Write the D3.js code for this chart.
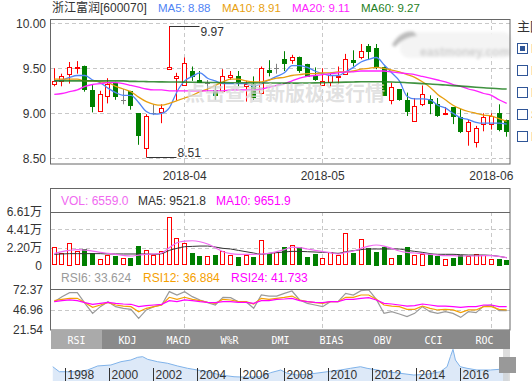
<!DOCTYPE html>
<html>
<head>
<meta charset="utf-8">
<script src="https://cdn.jsdelivr.net/npm/d3@7"></script>
<style>
  body { margin: 0; background: #fff; overflow: hidden; }
  svg { display: block; font-family: "Liberation Sans", Arial, "Noto Sans CJK SC", sans-serif; }
</style>
</head>
<body>
<svg id="chart" width="532" height="387"></svg>
<script>
// trading days, 2018-03-08 .. 2018-06-05
const dates = ["03-08","03-09","03-12","03-13","03-14","03-15","03-16","03-19","03-20","03-21",
  "03-22","03-23","03-26","03-27","03-28","03-29","03-30","04-02","04-03","04-04",
  "04-09","04-10","04-11","04-12","04-13","04-16","04-17","04-18","04-19","04-20",
  "04-23","04-24","04-25","04-26","04-27","05-02","05-03","05-04","05-07","05-08",
  "05-09","05-10","05-11","05-14","05-15","05-16","05-17","05-18","05-21","05-22",
  "05-23","05-24","05-25","05-28","05-29","05-30","05-31","06-01","06-04","06-05"]
const monthStarts = ["04-02", "05-02", "06-01"]
const monthLabels = ["2018-04", "2018-05", "2018-06"]

const open = [9.33,9.36,9.44,9.51,9.53,9.26,9.02,9.20,9.34,9.15, 9.25,9.00,8.62,9.00,9.02,9.50,9.39,9.32,9.47,9.37,
  9.34,9.26,9.24,9.41,9.42,9.31,9.33,9.22,9.48,9.50, 9.60,9.60,9.63,9.55,9.42,9.32,9.35,9.41,9.43,9.59,
  9.62,9.75,9.73,9.52,9.15,9.27,9.15,8.91,9.10,9.16, 9.10,8.99,9.07,8.96,8.80,8.69,8.88,8.88,9.00,8.93]
const high = [9.50,9.44,9.57,9.58,9.53,9.32,9.25,9.39,9.35,9.27, 9.25,9.00,8.99,9.10,9.10,9.97,9.45,9.62,9.52,9.47,
  9.37,9.32,9.49,9.47,9.47,9.36,9.41,9.52,9.59,9.55, 9.69,9.65,9.63,9.55,9.51,9.50,9.45,9.52,9.66,9.70,
  9.77,9.77,9.77,9.52,9.34,9.27,9.23,9.17,9.31,9.20, 9.17,9.07,9.07,9.05,8.93,8.86,9.00,9.00,9.10,8.93]
const low = [9.30,9.30,9.33,9.44,9.24,9.01,9.02,9.11,9.15,9.10, 9.04,8.65,8.51,8.98,8.89,9.50,9.14,9.32,9.36,9.34,
  9.24,9.15,9.23,9.37,9.30,9.13,9.15,9.21,9.41,9.44, 9.47,9.55,9.45,9.41,9.36,9.32,9.30,9.33,9.43,9.52,
  9.60,9.60,9.49,9.20,9.10,9.14,8.97,8.91,9.08,8.99, 8.96,8.98,8.88,8.78,8.64,8.62,8.80,8.82,8.80,8.74]
const close = [9.36,9.42,9.52,9.52,9.28,9.08,9.21,9.33,9.20,9.15, 9.10,8.76,8.97,9.00,9.06,9.52,9.41,9.56,9.41,9.35,
  9.34,9.20,9.41,9.43,9.36,9.33,9.19,9.50,9.46,9.50, 9.55,9.63,9.49,9.42,9.39,9.36,9.43,9.42,9.60,9.57,
  9.69,9.70,9.52,9.21,9.29,9.16,9.03,9.08,9.21,9.12, 8.98,9.00,8.97,8.80,8.90,8.84,8.96,8.97,8.82,8.81]

const ma5 = [9.36,9.37,9.40,9.42,9.42,9.37,9.34,9.28,9.23,9.20, 9.20,9.12,9.02,8.99,9.00,9.06,9.24,9.36,9.41,9.45,
  9.39,9.36,9.33,9.33,9.33,9.33,9.30,9.33,9.37,9.41, 9.45,9.53,9.53,9.51,9.47,9.44,9.42,9.42,9.46,9.51,
  9.57,9.60,9.62,9.54,9.45,9.36,9.19,9.16,9.16,9.15, 9.09,9.06,9.00,8.95,8.93,8.90,8.89,8.89,8.89,8.88]
const ma10 = [9.38,9.38,9.38,9.38,9.36,9.36,9.35,9.34,9.30,9.27, 9.24,9.18,9.13,9.10,9.09,9.11,9.14,9.17,9.20,9.24,
  9.27,9.31,9.35,9.38,9.38,9.36,9.35,9.35,9.37,9.39, 9.40,9.42,9.43,9.44,9.44,9.45,9.45,9.46,9.46,9.47,
  9.49,9.50,9.51,9.50,9.48,9.46,9.43,9.40,9.35,9.29, 9.21,9.15,9.09,9.05,9.02,9.00,8.98,8.97,8.94,8.91]
const ma20 = [9.21,9.22,9.24,9.26,9.30,9.32,9.33,9.34,9.34,9.33, 9.31,9.29,9.27,9.26,9.26,9.25,9.25,9.25,9.25,9.25,
  9.25,9.25,9.25,9.26,9.26,9.26,9.26,9.27,9.29,9.31, 9.33,9.36,9.39,9.41,9.42,9.43,9.44,9.45,9.46,9.46,
  9.47,9.47,9.47,9.47,9.46,9.45,9.44,9.43,9.41,9.39, 9.37,9.35,9.32,9.30,9.27,9.25,9.22,9.20,9.15,9.11]
const ma60 = [9.36,9.36,9.36,9.36,9.36,9.36,9.36,9.36,9.36,9.36, 9.355,9.354,9.352,9.35,9.349,9.348,9.347,9.346,9.345,9.344,
  9.343,9.342,9.341,9.34,9.34,9.339,9.338,9.337,9.336,9.336, 9.335,9.335,9.336,9.337,9.338,9.34,9.342,9.344,9.346,9.348,
  9.35,9.351,9.351,9.35,9.348,9.345,9.34,9.335,9.33,9.325, 9.32,9.314,9.308,9.302,9.296,9.29,9.284,9.278,9.273,9.27]

// volume in 万 shares
const volume = [2.22,1.49,2.79,1.73,2.02,1.49,0.76,1.25,1.16,0.88, 0.95,2.38,1.85,1.28,1.73,5.89,3.32,2.71,1.53,1.16,
  1.16,1.28,1.73,1.28,1.08,1.28,1.04,3.08,1.53,1.60, 2.26,2.47,2.26,1.04,1.41,0.88,1.65,1.28,3.93,1.53,
  3.24,2.14,1.69,2.26,0.88,1.28,2.26,1.25,1.45,1.37, 1.16,0.80,0.95,1.28,1.16,1.37,1.25,0.76,0.80,0.66]
const volMaDark = [1.37,1.41,1.45,1.45,1.45,1.45,1.45,1.41,1.41,1.41, 1.41,1.41,1.41,1.37,1.45,1.85,2.10,2.30,2.34,2.38,
  2.38,2.26,2.10,2.02,1.85,1.69,1.53,1.37,1.49,1.57, 1.65,1.73,1.73,1.69,1.65,1.61,1.57,1.49,1.69,1.81,
  1.94,2.02,2.02,2.02,2.02,2.02,1.85,1.73,1.61,1.45, 1.37,1.37,1.37,1.32,1.28,1.28,1.28,1.24,1.12,0.95]
const volMaPink = [1.45,1.69,1.85,1.94,1.89,1.77,1.61,1.49,1.37,1.24, 1.16,1.28,1.37,1.41,1.53,2.18,2.79,2.99,3.03,2.91,
  2.63,2.18,1.69,1.45,1.37,1.37,1.37,1.41,1.49,1.69, 1.94,2.26,2.18,2.02,1.85,1.69,1.57,1.41,1.61,1.77,
  2.10,2.38,2.51,2.38,2.10,1.77,1.61,1.53,1.45,1.37, 1.28,1.20,1.20,1.16,1.16,1.16,1.20,1.20,1.12,0.97]

const rsi6 = [57.5,63.9,69.0,69.0,55.4,42.7,51.2,57.5,51.2,49.1, 47.8,36.4,47.0,51.2,53.3,70.3,66.0,70.3,63.9,59.7,
  56.3,53.3,63.1,62.6,57.5,57.5,49.1,66.0,64.7,64.7, 68.1,71.1,59.7,55.4,53.3,51.2,57.5,57.5,68.1,66.0,
  71.5,72.4,60.5,42.7,44.8,41.9,38.5,42.7,51.2,44.8, 42.7,44.8,42.7,37.6,44.8,43.6,52.0,53.3,46.1,46.1]
const rsi12 = [58.8,60.5,61.8,61.8,56.3,50.3,53.3,56.7,53.3,52.0, 51.2,44.8,49.1,51.2,53.3,63.1,60.5,63.1,60.5,58.8,
  56.7,55.4,60.5,59.7,57.5,57.5,54.6,61.8,60.5,61.8, 63.1,64.7,59.7,57.5,56.3,55.4,57.5,57.5,63.1,63.1,
  66.0,66.0,60.5,53.3,52.0,51.2,47.8,47.8,52.0,49.1, 47.0,47.8,47.0,43.6,47.0,47.0,51.2,51.2,47.8,47.0]
const rsi24 = [57.5,58.8,59.7,58.8,56.3,54.2,55.4,56.7,55.4,54.6, 54.2,51.2,52.5,53.3,54.2,58.8,57.5,59.7,58.8,57.5,
  56.7,56.3,57.5,57.5,56.7,56.7,55.4,58.8,58.8,60.5, 60.9,61.8,58.8,57.5,56.7,56.3,57.5,57.5,60.5,60.5,
  61.8,62.6,59.7,55.4,54.6,53.3,52.0,52.5,54.6,53.3, 52.0,52.0,51.2,50.3,51.2,51.2,53.3,53.3,51.2,51.2]

const priceTicks = [8.5, 9.0, 9.5, 10.0]
const volTicks = [0, 2.20, 4.41, 6.61]
const rsiTicks = [21.54, 46.96, 72.37]

const maNames = ["MA5", "MA10", "MA20", "MA60"]
const maLast = ["8.88", "8.91", "9.11", "9.27"]
const volNames = ["VOL", "MA5", "MA10"]
const volLast = ["6559.0", "9521.8", "9651.9"]
const rsiNames = ["RSI6", "RSI12", "RSI24"]
const rsiLast = ["33.624", "36.884", "41.733"]
const tabNames = ["RSI", "KDJ", "MACD", "W%R", "DMI", "BIAS", "OBV", "CCI", "ROC"]

// long-term overview (navigator)
const navYears = [1997.44,1997.74,1998.12,1998.58,1999.03,1999.49,2000.09,2000.55,2001.00,2001.31,2001.54,2001.77,
  2002.22,2002.68,2003.13,2003.59,2004.04,2004.50,2005.10,2005.71,2006.32,2006.93,2007.38,2007.84,2008.14,2008.60,
  2009.20,2009.96,2010.57,2011.02,2011.48,2011.78,2012.24,2012.69,2013.30,2013.91,2014.52,2015.12,2015.43,2015.58,
  2015.70,2015.81,2016.03,2016.34,2016.79,2017.40,2017.85,2018.23]
const navPrices = [13.4,8.7,8.7,8.7,10.3,14.1,15.0,18.1,19.7,22.2,22.8,20.3,18.1,16.6,14.1,11.9,10.3,8.7,5.6,4.0,
  3.5,4.0,7.8,10.3,7.2,5.6,6.6,8.7,10.3,11.9,13.4,11.9,10.3,8.7,7.2,5.6,6.3,8.7,13.4,22.8,29.7,19.7,13.4,11.9,
  10.3,10.3,11.0,8.7]
const navTicks = [1998, 2000, 2002, 2004, 2006, 2008, 2010, 2012, 2014, 2016]

const RED = "#ff0000", GREEN = "#007f00", GRAY = "#808080"
const maColors = ["#4f84f5", "#e89f10", "#ff22ff", "#1f7f1f"]
const volColors = ["#f06af0", "#333333", "#ff00ff"]
const rsiColors = ["#9a9a9a", "#f5a000", "#ff00ff"]
const GRID = "#c8c8c8", BORDER = "#666"

const svg = d3.select("#chart")
const left = 51, right = 510

const x = d3.scaleBand().domain(dates).range([left, right]).paddingInner(0.35).paddingOuter(0.105)
const bx = d => Math.round(x(d)) + 0.5
const cx = d => Math.round(x(d)) + 2.5
const y = d3.scaleLinear().domain([8.5, 10]).range([158.3, 23.3])
const yv = d3.scaleLinear().domain([0, 6.61]).range([265.5, 211.5])
const yr = d3.scaleLinear().domain([21.54, 72.37]).range([330, 290])

const rows = dates.map((d, i) => ({ d, o: open[i], h: high[i], l: low[i], c: close[i], v: volume[i] }))
const col = r => r.c > r.o ? RED : r.c < r.o ? GREEN : GRAY

const defs = svg.append("defs")
defs.append("clipPath").attr("id", "clipMain").append("rect").attr("x", left).attr("y", 19).attr("width", right - left).attr("height", 145)
defs.append("clipPath").attr("id", "clipVol").append("rect").attr("x", left).attr("y", 212).attr("width", right - left).attr("height", 55)
defs.append("clipPath").attr("id", "clipRsi").append("rect").attr("x", left).attr("y", 289).attr("width", right - left).attr("height", 41)
defs.append("filter").attr("id", "blur").append("feGaussianBlur").attr("stdDeviation", 1.6)

// ---------- grids ----------
const grid = svg.append("g").attr("stroke", GRID).attr("stroke-dasharray", "4,3").attr("fill", "none")
priceTicks.forEach(t => grid.append("line").attr("x1", left).attr("x2", right)
  .attr("y1", Math.round(y(t)) + 0.5).attr("y2", Math.round(y(t)) + 0.5))
volTicks.slice(1, 3).forEach(t => grid.append("line").attr("x1", left).attr("x2", right)
  .attr("y1", Math.round(yv(t)) + 0.5).attr("y2", Math.round(yv(t)) + 0.5))
grid.append("line").attr("x1", left).attr("x2", right)
  .attr("y1", Math.round(yr(rsiTicks[1])) + 0.5).attr("y2", Math.round(yr(rsiTicks[1])) + 0.5)
monthStarts.forEach(m => {
  const gx = cx(m)
  grid.append("line").attr("x1", gx).attr("x2", gx).attr("y1", 19).attr("y2", 164)
  grid.append("line").attr("x1", gx).attr("x2", gx).attr("y1", 212).attr("y2", 266)
  grid.append("line").attr("x1", gx).attr("x2", gx).attr("y1", 289).attr("y2", 330)
})

// ---------- axes ----------
const styleAxis = g => {
  g.select(".domain").remove()
  g.selectAll("text").attr("font-size", 12).attr("fill", "#333")
    .attr("font-family", "'Liberation Sans', Arial, 'Noto Sans CJK SC', sans-serif")
}
svg.append("g").attr("transform", `translate(${left},0)`)
  .call(d3.axisLeft(y).tickValues(priceTicks).tickSize(0).tickPadding(5).tickFormat(d3.format(".2f")))
  .call(styleAxis)
svg.append("g").attr("transform", `translate(${left},0)`)
  .call(d3.axisLeft(yv).tickValues(volTicks).tickSize(0).tickPadding(9).tickFormat(d => d === 0 ? "0" : d.toFixed(2) + "万"))
  .call(styleAxis)
svg.append("g").attr("transform", `translate(${left},0)`)
  .call(d3.axisLeft(yr).tickValues(rsiTicks).tickSize(0).tickPadding(8).tickFormat(d3.format(".2f")))
  .call(styleAxis)
svg.append("g").attr("transform", "translate(0,164)")
  .call(d3.axisBottom(x).tickValues(monthStarts).tickSize(0).tickPadding(7.5)
    .tickFormat(d => monthLabels[monthStarts.indexOf(d)]))
  .call(styleAxis)

// ---------- candles ----------
const candles = svg.append("g").attr("clip-path", "url(#clipMain)")
candles.selectAll(".wick").data(rows).join("line").attr("class", "wick")
  .attr("x1", r => cx(r.d)).attr("x2", r => cx(r.d))
  .attr("y1", r => y(r.h)).attr("y2", r => y(r.l))
  .attr("stroke", col)
candles.selectAll(".body").data(rows.filter(r => r.o !== r.c)).join("rect").attr("class", "body")
  .attr("x", r => bx(r.d)).attr("width", 4)
  .attr("y", r => Math.round(y(Math.max(r.o, r.c))) + 0.5)
  .attr("height", r => Math.max(1, Math.round(Math.abs(y(r.o) - y(r.c)))))
  .attr("fill", r => r.c > r.o ? "#fff" : GREEN)
  .attr("stroke", col)
candles.selectAll(".doji").data(rows.filter(r => r.o === r.c)).join("line").attr("class", "doji")
  .attr("x1", r => bx(r.d) - 0.5).attr("x2", r => bx(r.d) + 4.5)
  .attr("y1", r => Math.round(y(r.c)) + 0.5).attr("y2", r => Math.round(y(r.c)) + 0.5)
  .attr("stroke", GRAY)

// MA lines
const maSeries = [ma5, ma10, ma20, ma60]
const maLine = d3.line().x((v, i) => x(dates[i]) + x.bandwidth() / 2).y(v => y(v)).curve(d3.curveMonotoneX)
candles.selectAll(".ma").data(maSeries).join("path").attr("class", "ma")
  .attr("d", maLine).attr("fill", "none")
  .attr("stroke", (s, i) => maColors[i])
  .attr("stroke-width", (s, i) => i === 3 ? 1.6 : 1.3)
  .attr("stroke-opacity", (s, i) => i === 3 ? 0.85 : 1)

// watermark
svg.append("text").attr("x", 185).attr("y", 101)
  .attr("font-family", "'Noto Sans CJK SC', sans-serif").attr("font-size", 20).attr("font-weight", "bold")
  .attr("fill", "#d9d9d9").attr("fill-opacity", 0.8)
  .text("点击查看新版极速行情")

// eastmoney logo (blurred)
const logo = svg.append("g").attr("filter", "url(#blur)")
logo.append("rect").attr("x", 400).attr("y", 32).attr("width", 112).attr("height", 26).attr("rx", 9).attr("fill", "#f4f4f4")
logo.append("path").attr("d", "M392,45 C397,36 405,30 414,32 L417,36 C409,36 401,40 395,47 Z").attr("fill", "#bbb")
logo.append("text").attr("x", 420).attr("y", 56).attr("font-size", 12).attr("font-weight", "bold")
  .attr("fill", "#cfcfcf").text("eastmoney.com")

// high / low annotations
const hiI = high.indexOf(d3.max(high)), loI = low.indexOf(d3.min(low))
const ann = svg.append("g").attr("font-size", 12).attr("fill", "#333")
const hy = Math.round(y(high[hiI])) + 0.5, ly = Math.round(y(low[loI])) + 0.5
ann.append("line").attr("x1", cx(dates[hiI])).attr("x2", cx(dates[hiI]) + 30).attr("y1", hy).attr("y2", hy).attr("stroke", "#333")
ann.append("text").attr("x", cx(dates[hiI]) + 31).attr("y", hy + 9).text(high[hiI].toFixed(2))
ann.append("line").attr("x1", cx(dates[loI])).attr("x2", cx(dates[loI]) + 30).attr("y1", ly).attr("y2", ly).attr("stroke", "#333")
ann.append("text").attr("x", cx(dates[loI]) + 31).attr("y", ly - 1).text(low[loI].toFixed(2))

// ---------- volume ----------
const vol = svg.append("g").attr("clip-path", "url(#clipVol)")
vol.selectAll("rect").data(rows).join("rect")
  .attr("x", r => bx(r.d)).attr("width", 4)
  .attr("y", r => Math.round(yv(r.v)) + 0.5)
  .attr("height", r => Math.round(yv(0) - yv(r.v)) - 1)
  .attr("fill", r => r.c >= r.o ? "#fff" : GREEN)
  .attr("stroke", r => r.c >= r.o ? RED : GREEN)
const volLine = d3.line().x((v, i) => x(dates[i]) + x.bandwidth() / 2).y(v => yv(v)).curve(d3.curveMonotoneX)
vol.append("path").attr("d", volLine(volMaDark)).attr("fill", "none").attr("stroke", volColors[1]).attr("stroke-width", 1)
vol.append("path").attr("d", volLine(volMaPink)).attr("fill", "none").attr("stroke", volColors[0]).attr("stroke-width", 1.2)

// ---------- RSI ----------
const rsiG = svg.append("g").attr("clip-path", "url(#clipRsi)")
const rsiLine = d3.line().x((v, i) => x(dates[i]) + x.bandwidth() / 2).y(v => yr(v))
;[rsi6, rsi12, rsi24].forEach((s, i) => rsiG.append("path").attr("d", rsiLine(s)).attr("fill", "none")
  .attr("stroke", rsiColors[i]).attr("stroke-width", 1.2))

// ---------- legends ----------
const title = svg.append("text").attr("y", 12).attr("font-size", 12)
title.append("tspan").attr("x", 52).attr("fill", "#333").text("浙江富润[600070]")
const maX = [158, 222, 292, 361]
maNames.forEach((n, i) => title.append("tspan").attr("x", maX[i]).attr("font-size", 11.5)
  .attr("fill", maColors[i]).text(`${n}: ${maLast[i]}`))
const volLeg = svg.append("text").attr("y", 205).attr("font-size", 12)
const volX = [61, 138, 216]
volNames.forEach((n, i) => volLeg.append("tspan").attr("x", volX[i]).attr("fill", volColors[i]).text(`${n}: ${volLast[i]}`))
const rsiLeg = svg.append("text").attr("y", 282).attr("font-size", 12)
const rsiX = [61, 143, 231]
rsiNames.forEach((n, i) => rsiLeg.append("tspan").attr("x", rsiX[i]).attr("fill", rsiColors[i]).text(`${n}: ${rsiLast[i]}`))

// ---------- frames ----------
const frame = svg.append("g").attr("fill", "none").attr("stroke", BORDER)
frame.append("rect").attr("x", left - 0.5).attr("y", 19.5).attr("width", right - left + 0.5).attr("height", 144.5)
frame.append("rect").attr("x", left - 0.5).attr("y", 188.5).attr("width", right - left + 0.5).attr("height", 141.5)
frame.append("line").attr("x1", left).attr("x2", right).attr("y1", 212.5).attr("y2", 212.5)
frame.append("line").attr("x1", left).attr("x2", right).attr("y1", 289.5).attr("y2", 289.5)

// ---------- indicator tabs ----------
const tx = d3.scaleBand().domain(tabNames).range([left, right])
const tabs = svg.append("g")
tabs.append("rect").attr("x", left).attr("y", 330).attr("width", right - left).attr("height", 19).attr("fill", "#8a8a8a")
tabs.append("rect").attr("x", left).attr("y", 330).attr("width", tx.bandwidth()).attr("height", 19).attr("fill", "#aaaaaa")
tabs.selectAll("text").data(tabNames).join("text")
  .attr("x", d => tx(d) + tx.bandwidth() / 2).attr("y", 344).attr("text-anchor", "middle")
  .attr("font-family", "'DejaVu Sans Mono', monospace").attr("font-size", 10).attr("fill", "#fff")
  .text(d => d)

// ---------- navigator ----------
const nx = d3.scaleLinear().domain([1997.36, 2018.3]).range([left, right])
const ny = d3.scaleLinear().domain([0, 30]).range([381, 349])
const navData = navYears.map((yr, i) => ({ yr, p: navPrices[i] }))
svg.append("path").datum(navData)
  .attr("d", d3.area().x(d => nx(d.yr)).y0(381).y1(d => ny(d.p)))
  .attr("fill", "#dde9f8")
svg.append("path").datum(navData)
  .attr("d", d3.line().x(d => nx(d.yr)).y(d => ny(d.p)))
  .attr("fill", "none").attr("stroke", "#80b3ea").attr("stroke-width", 1)
const navAxis = svg.append("g")
navTicks.forEach(t => {
  const px = Math.round(nx(t)) + 0.5
  navAxis.append("line").attr("x1", px).attr("x2", px).attr("y1", 368).attr("y2", 381).attr("stroke", "#333")
  navAxis.append("text").attr("x", px + 2).attr("y", 379).attr("font-size", 12).attr("fill", "#333").text(t)
})
svg.append("rect").attr("x", 503).attr("y", 349).attr("width", 7).attr("height", 32).attr("fill", "#cfcfcf").attr("opacity", 0.7)
svg.append("rect").attr("x", 499).attr("y", 357).attr("width", 17).attr("height", 16).attr("fill", "#999")

// ---------- right-side option panel ----------
const panel = svg.append("g")
panel.append("text").attr("x", 517).attr("y", 31).attr("font-size", 13)
  .attr("font-family", "'Noto Sans CJK SC', sans-serif").attr("fill", "#333").text("主图指标")
const boxY = [42.5, 64.5, 87, 109, 131]
const boxLabels = ["MA", "EXPMA", "BOLL", "SAR", "BBI"]
boxY.forEach((by, i) => {
  panel.append("rect").attr("x", 517.5).attr("y", Math.round(by) + 0.5).attr("width", 10).attr("height", 10)
    .attr("fill", "#fff").attr("stroke", "#2f5597")
  if (i === 0) panel.append("rect").attr("x", 520).attr("y", Math.round(by) + 3).attr("width", 5).attr("height", 5).attr("fill", "#2f5597")
  panel.append("text").attr("x", 531).attr("y", by + 10).attr("font-size", 12).attr("fill", "#333").text(boxLabels[i])
})
</script>
</body>
</html>
